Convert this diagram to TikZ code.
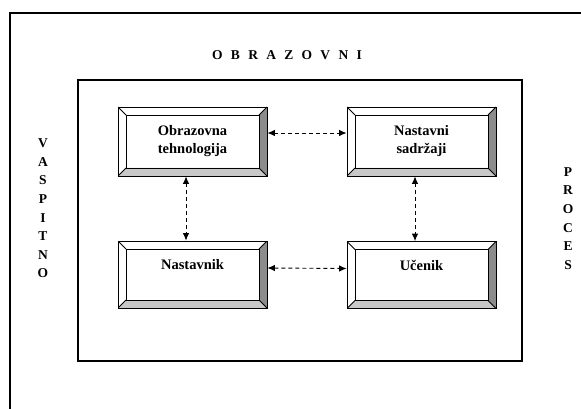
\documentclass[tikz,border=0pt]{standalone}
\usepackage{fontspec}
\setmainfont{Liberation Serif}
\usetikzlibrary{arrows.meta,calc}

\definecolor{bevdark}{HTML}{8C8C8C}
\definecolor{bevlight}{HTML}{C8C8C8}

\tikzset{
  frameline/.style={line width=2pt, line join=miter},
  innerframe/.style={line width=1.5pt},
  % bevelled box: white top/left, light bottom, dark right
  bevelbox/.style={
    draw, line width=0.8pt, fill=white, inner sep=0pt,
    minimum width=149pt, minimum height=#1,
    path picture={
      \coordinate (bNW) at (path picture bounding box.north west);
      \coordinate (bNE) at (path picture bounding box.north east);
      \coordinate (bSE) at (path picture bounding box.south east);
      \coordinate (bSW) at (path picture bounding box.south west);
      \coordinate (iNW) at ($(bNW)+(8pt,-8pt)$);
      \coordinate (iNE) at ($(bNE)+(-8pt,-8pt)$);
      \coordinate (iSE) at ($(bSE)+(-8pt,8pt)$);
      \coordinate (iSW) at ($(bSW)+(8pt,8pt)$);
      \fill[bevdark] (bNE) -- (bSE) -- (iSE) -- (iNE) -- cycle;
      \fill[bevlight] (bSW) -- (bSE) -- (iSE) -- (iSW) -- cycle;
      \draw[line width=0.8pt] (iNW) rectangle (iSE);
      \draw[line width=0.8pt] (bNW) -- (iNW) (bNE) -- (iNE)
                              (bSE) -- (iSE) (bSW) -- (iSW);
    }
  },
  boxtext/.style={font=\fontsize{14.5}{18}\selectfont\bfseries, align=center},
  sidetext/.style={font=\fontsize{13.5}{18.6}\selectfont\bfseries, align=center, inner sep=0pt},
  link/.style={line width=0.9pt, dash pattern=on 4pt off 3pt,
    {Latex[length=7.5pt,width=6.5pt]}-{Latex[length=7.5pt,width=6.5pt]}}
}

\begin{document}
\begin{tikzpicture}[x=1pt,y=-1pt]
  \useasboundingbox (0,0) rectangle (581,409);
  \fill[white] (0,0) rectangle (581,409);

  % outer and inner frames
  \draw[frameline] (10,410) -- (10,13) -- (582,13);
  \draw[innerframe] (78,80) rectangle (522,361);

  % caption words around the frames
  \node[font=\fontsize{13.5}{15}\selectfont\bfseries] (obr) at (287,55)
    {O\hskip8.3pt B\hskip8.3pt R\hskip8.3pt A\hskip8.3pt Z\hskip8.3pt O\hskip8.3pt V\hskip8.3pt N\hskip8.3pt I};
  \node[sidetext] (vas) at (43,208.5) {V\\A\\S\\P\\I\\T\\N\\O};
  \node[sidetext] (pro) at (568,218.5) {P\\R\\O\\C\\E\\S};

  % the four bevelled boxes
  \node[bevelbox=69pt] (ot) at (192.5,141.5) {};
  \node[bevelbox=69pt] (ns) at (421.5,141.5) {};
  \node[bevelbox=67pt] (nk) at (192.5,274.5) {};
  \node[bevelbox=67pt] (uc) at (421.5,275) {};

  \node[boxtext] (otl) at (192.5,141.5) {Obrazovna\\tehnologija};
  \node[boxtext] (nsl) at (421.5,141.5) {Nastavni\\sadržaji};
  \node[boxtext] (nkl) at (192.5,265) {Nastavnik};
  \node[boxtext] (ucl) at (421.5,265) {Učenik};

  % dashed two-way links
  \draw[link] ([yshift=8.5pt]ot.east) -- ([yshift=8.5pt]ns.west);
  \draw[link] ([yshift=6.5pt]nk.east) -- ([yshift=6.5pt]uc.west);
  \draw[link] ([xshift=-6.5pt]ot.south) -- ([xshift=-6.5pt]nk.north);
  \draw[link] ([xshift=-6.5pt]ns.south) -- ([xshift=-6.5pt]uc.north);
\end{tikzpicture}
\end{document}
